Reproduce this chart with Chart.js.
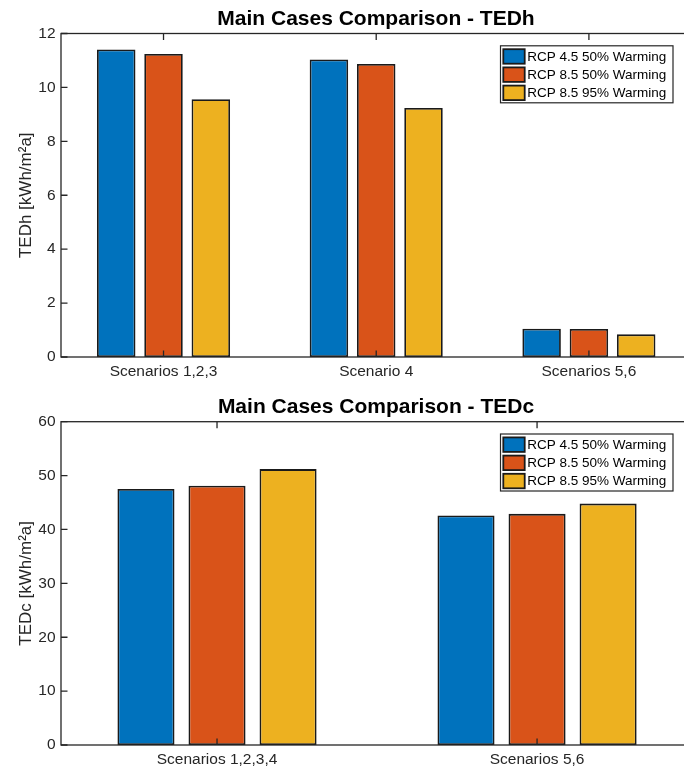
<!DOCTYPE html>
<html>
<head>
<meta charset="utf-8">
<title>Main Cases Comparison</title>
<script src="https://cdn.jsdelivr.net/npm/chart.js@4.4.1/dist/chart.umd.min.js"></script>
<style>
  html, body { margin: 0; padding: 0; background: #fff; overflow: hidden; }
  body { width: 684px; height: 771px; position: relative; }
  canvas { position: absolute; left: 0; display: block; }
  #tedhChart { top: 0; }
  #tedcChart { top: 390px; }
</style>
</head>
<body>
<canvas id="tedhChart" width="691" height="390"></canvas>
<canvas id="tedcChart" width="691" height="381"></canvas>
<script>
// Series shared by both panels
const seriesNames = ['RCP 4.5 50% Warming', 'RCP 8.5 50% Warming', 'RCP 8.5 95% Warming'];
const seriesColors = ['#0072BD', '#D95319', '#EDB120'];

// Heating demand (TEDh)
const tedhCases = ['Scenarios 1,2,3', 'Scenario 4', 'Scenarios 5,6'];
const tedhRcp45 = [11.41, 11.04, 1.05];
const tedhRcp85 = [11.24, 10.87, 1.04];
const tedhRcp85High = [9.56, 9.24, 0.84];
const tedhTicks = [0, 2, 4, 6, 8, 10, 12];

// Cooling demand (TEDc)
const tedcCases = ['Scenarios 1,2,3,4', 'Scenarios 5,6'];
const tedcRcp45 = [47.5, 42.6];
const tedcRcp85 = [48.1, 42.9];
const tedcRcp85High = [51.2, 44.8];
const tedcTicks = [0, 10, 20, 30, 40, 50, 60];

const axisColor = '#262626';
const edgeColor = '#1a1a1a';
Chart.defaults.font.family = '"Liberation Sans", Arial, Helvetica, sans-serif';

// Boxed axes with inward ticks plus an inset legend
const matlabAxes = {
  id: 'matlabAxes',
  afterDatasetsDraw(chart) {
    const { ctx, chartArea: a, scales: { x, y } } = chart;
    const tick = 6.5;
    ctx.save();
    ctx.strokeStyle = axisColor;
    ctx.lineWidth = 1.3;
    ctx.beginPath();
    y.ticks.forEach(t => {
      const py = y.getPixelForValue(t.value);
      ctx.moveTo(a.left, py); ctx.lineTo(a.left + tick, py);
      ctx.moveTo(a.right, py); ctx.lineTo(a.right - tick, py);
    });
    x.ticks.forEach(t => {
      const px = x.getPixelForValue(t.value);
      ctx.moveTo(px, a.bottom); ctx.lineTo(px, a.bottom - tick);
      ctx.moveTo(px, a.top); ctx.lineTo(px, a.top + tick);
    });
    ctx.stroke();
    ctx.strokeRect(a.left, a.top, a.right - a.left, a.bottom - a.top);

    // legend
    const lx = a.right - 190.5, ly = a.top + 12.3, lw = 172.5, lh = 57;
    ctx.fillStyle = '#fff';
    ctx.fillRect(lx, ly, lw, lh);
    ctx.lineWidth = 1.2;
    ctx.strokeStyle = axisColor;
    ctx.strokeRect(lx, ly, lw, lh);
    ctx.font = '13.5px "Liberation Sans", Arial, sans-serif';
    ctx.textBaseline = 'middle';
    ctx.textAlign = 'left';
    chart.data.datasets.forEach((ds, i) => {
      const sy = ly + 3.4 + i * 18.2;
      ctx.fillStyle = ds.backgroundColor;
      ctx.fillRect(lx + 2.8, sy, 21.4, 14.5);
      ctx.lineWidth = 1.8;
      ctx.strokeStyle = edgeColor;
      ctx.strokeRect(lx + 2.8, sy, 21.4, 14.5);
      ctx.fillStyle = '#000';
      ctx.fillText(ds.label, lx + 26.7, sy + 7.6);
    });
    ctx.restore();
  }
};

function drawGroupedBars(canvasId, opts) {
  const { cases, series, ticks, yLabel, title, xRange, barPct, catPct, titlePad, xHeight } = opts;
  new Chart(document.getElementById(canvasId), {
    type: 'bar',
    data: {
      datasets: series.map((vals, i) => ({
        label: seriesNames[i],
        data: vals.map((v, j) => ({ x: j + 1, y: v })),
        backgroundColor: seriesColors[i],
        borderColor: edgeColor,
        borderWidth: 1.8,
        borderSkipped: false,
        barPercentage: barPct,
        categoryPercentage: catPct
      }))
    },
    options: {
      responsive: false,
      animation: false,
      layout: { padding: 0 },
      plugins: {
        legend: { display: false },
        tooltip: { enabled: false },
        title: {
          display: true,
          text: title,
          fullSize: false,
          color: '#000',
          font: { size: 21, weight: 'bold' },
          padding: titlePad
        }
      },
      scales: {
        x: {
          type: 'linear',
          offset: false,
          min: xRange[0],
          max: xRange[1],
          afterBuildTicks: axis => { axis.ticks = cases.map((c, j) => ({ value: j + 1 })); },
          afterFit: scale => { scale.height = xHeight; },
          ticks: {
            callback: v => cases[v - 1],
            autoSkip: false,
            maxRotation: 0,
            padding: 5.5,
            color: axisColor,
            font: { size: 15.5 }
          },
          grid: { display: false, drawTicks: false },
          border: { display: false }
        },
        y: {
          min: ticks[0],
          max: ticks[ticks.length - 1],
          afterBuildTicks: axis => { axis.ticks = ticks.map(v => ({ value: v })); },
          afterFit: scale => { scale.width = 61; },
          ticks: {
            callback: v => String(v),
            padding: 5.5,
            color: axisColor,
            font: { size: 15.5 }
          },
          grid: { display: false, drawTicks: false },
          border: { display: false },
          title: {
            display: true,
            text: yLabel,
            color: axisColor,
            font: { size: 17 },
            padding: { top: 15.8, bottom: 0 }
          }
        }
      }
    },
    plugins: [matlabAxes]
  });
}

drawGroupedBars('tedhChart', {
  cases: tedhCases,
  series: [tedhRcp45, tedhRcp85, tedhRcp85High],
  ticks: tedhTicks,
  yLabel: 'TEDh [kWh/m²a]',
  title: 'Main Cases Comparison - TEDh',
  xRange: [0.518, 3.48],
  barPct: 0.814,
  catPct: 0.667,
  titlePad: { top: 6.6, bottom: 1.7 },
  xHeight: 33
});

drawGroupedBars('tedcChart', {
  cases: tedcCases,
  series: [tedcRcp45, tedcRcp85, tedcRcp85High],
  ticks: tedcTicks,
  yLabel: 'TEDc [kWh/m²a]',
  title: 'Main Cases Comparison - TEDc',
  xRange: [0.5125, 2.481],
  barPct: 0.803,
  catPct: 0.666,
  titlePad: { top: 4.4, bottom: 2.1 },
  xHeight: 26
});
</script>
</body>
</html>
